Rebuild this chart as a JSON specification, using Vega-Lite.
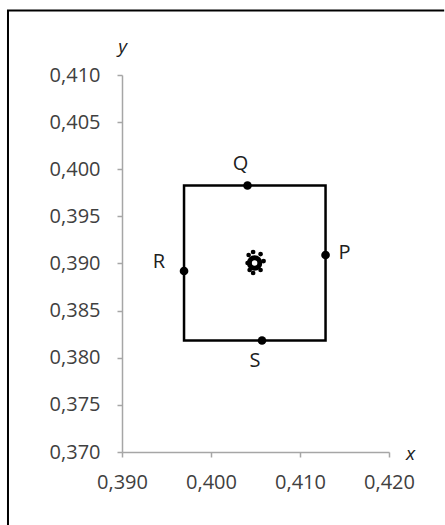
{
  "$schema": "https://vega.github.io/schema/vega-lite/v6.json",
  "autosize": "none",
  "padding": {"left": 122, "top": 75, "right": 56, "bottom": 73},
  "width": 267,
  "height": 377,
  "background": "white",
  "config": {
    "view": {"stroke": null},
    "font": "Open Sans",
    "axis": {
      "grid": false,
      "domainColor": "#a6a6a6",
      "domainWidth": 1.5,
      "tickColor": "#a6a6a6",
      "tickWidth": 1.5,
      "tickSize": 5,
      "labelFont": "Open Sans",
      "labelFontSize": 20,
      "labelColor": "#404040",
      "titleFont": "Open Sans",
      "titleFontSize": 19,
      "titleFontStyle": "italic",
      "titleFontWeight": "normal",
      "titleColor": "#202020",
      "titleAngle": 0,
      "titleAlign": "center",
      "titleBaseline": "middle"
    }
  },
  "datasets": {
    "square": [{"x1": 0.39697, "x2": 0.41287, "y1": 0.38183, "y2": 0.39828}],
    "pts": [
      {"name": "P", "x": 0.41287, "y": 0.3909},
      {"name": "Q", "x": 0.4041, "y": 0.39828},
      {"name": "R", "x": 0.39697, "y": 0.3892},
      {"name": "S", "x": 0.40573, "y": 0.38183}
    ],
    "center": [{"x": 0.4049, "y": 0.39005}],
    "spikes": [
      {"x": 0.40473, "y": 0.39122},
      {"x": 0.40557, "y": 0.391},
      {"x": 0.40591, "y": 0.39026},
      {"x": 0.40557, "y": 0.38931},
      {"x": 0.40473, "y": 0.38899},
      {"x": 0.40411, "y": 0.39005},
      {"x": 0.40434, "y": 0.38931},
      {"x": 0.40423, "y": 0.3909}
    ]
  },
  "layer": [
    {
      "data": {"values": [{}]},
      "mark": {"type": "rule", "stroke": "black", "strokeWidth": 2, "clip": false},
      "encoding": {
        "x": {"datum": 0.37719, "type": "quantitative", "scale": {"domain": [0.39, 0.42], "nice": false, "zero": false},
          "axis": {"values": [0.39, 0.4, 0.41, 0.42], "labelExpr": "replace(format(datum.value, '.3f'), '.', ',')", "labelAlign": "center", "labelBaseline": "top", "labelPadding": 15, "title": "x", "titleX": 288, "titleY": 1}},
        "y": {"datum": 0.4169, "type": "quantitative", "scale": {"domain": [0.37, 0.41], "nice": false, "zero": false},
          "axis": {"values": [0.37, 0.375, 0.38, 0.385, 0.39, 0.395, 0.4, 0.405, 0.41], "labelExpr": "replace(format(datum.value, '.3f'), '.', ',')", "labelAlign": "right", "labelBaseline": "middle", "labelPadding": 17, "title": "y", "titleX": 0, "titleY": -29}},
        "y2": {"datum": 0.362}
      }
    },
    {
      "data": {"values": [{}]},
      "mark": {"type": "rule", "stroke": "black", "strokeWidth": 2, "clip": false},
      "encoding": {
        "x": {"datum": 0.37708, "type": "quantitative"},
        "x2": {"datum": 0.4262},
        "y": {"datum": 0.41685, "type": "quantitative"},
        "y2": {"datum": 0.41685}
      }
    },
    {
      "data": {"name": "square"},
      "mark": {"type": "rect", "filled": false, "stroke": "black", "strokeWidth": 2.5},
      "encoding": {
        "x": {"field": "x1", "type": "quantitative"},
        "x2": {"field": "x2"},
        "y": {"field": "y1", "type": "quantitative"},
        "y2": {"field": "y2"}
      }
    },
    {
      "data": {"name": "spikes"},
      "mark": {"type": "point", "filled": true, "color": "black", "size": 22, "opacity": 1},
      "encoding": {
        "x": {"field": "x", "type": "quantitative"},
        "y": {"field": "y", "type": "quantitative"}
      }
    },
    {
      "data": {"name": "center"},
      "mark": {"type": "point", "filled": true, "fill": "white", "stroke": "black", "strokeWidth": 5, "size": 110, "opacity": 1},
      "encoding": {
        "x": {"field": "x", "type": "quantitative"},
        "y": {"field": "y", "type": "quantitative"}
      }
    },
    {
      "data": {"name": "pts"},
      "mark": {"type": "point", "filled": true, "color": "black", "size": 75, "opacity": 1},
      "encoding": {
        "x": {"field": "x", "type": "quantitative"},
        "y": {"field": "y", "type": "quantitative"}
      }
    },
    {
      "data": {"name": "pts"},
      "transform": [{"filter": "datum.name === 'P'"}],
      "mark": {"type": "text", "dx": 19, "dy": -2, "fontSize": 20, "color": "#202020", "font": "Open Sans"},
      "encoding": {
        "x": {"field": "x", "type": "quantitative"},
        "y": {"field": "y", "type": "quantitative"},
        "text": {"field": "name"}
      }
    },
    {
      "data": {"name": "pts"},
      "transform": [{"filter": "datum.name === 'Q'"}],
      "mark": {"type": "text", "dx": -7, "dy": -21, "fontSize": 20, "color": "#202020", "font": "Open Sans"},
      "encoding": {
        "x": {"field": "x", "type": "quantitative"},
        "y": {"field": "y", "type": "quantitative"},
        "text": {"field": "name"}
      }
    },
    {
      "data": {"name": "pts"},
      "transform": [{"filter": "datum.name === 'R'"}],
      "mark": {"type": "text", "dx": -25, "dy": -9, "fontSize": 20, "color": "#202020", "font": "Open Sans"},
      "encoding": {
        "x": {"field": "x", "type": "quantitative"},
        "y": {"field": "y", "type": "quantitative"},
        "text": {"field": "name"}
      }
    },
    {
      "data": {"name": "pts"},
      "transform": [{"filter": "datum.name === 'S'"}],
      "mark": {"type": "text", "dx": -7, "dy": 20, "fontSize": 20, "color": "#202020", "font": "Open Sans"},
      "encoding": {
        "x": {"field": "x", "type": "quantitative"},
        "y": {"field": "y", "type": "quantitative"},
        "text": {"field": "name"}
      }
    }
  ]
}
